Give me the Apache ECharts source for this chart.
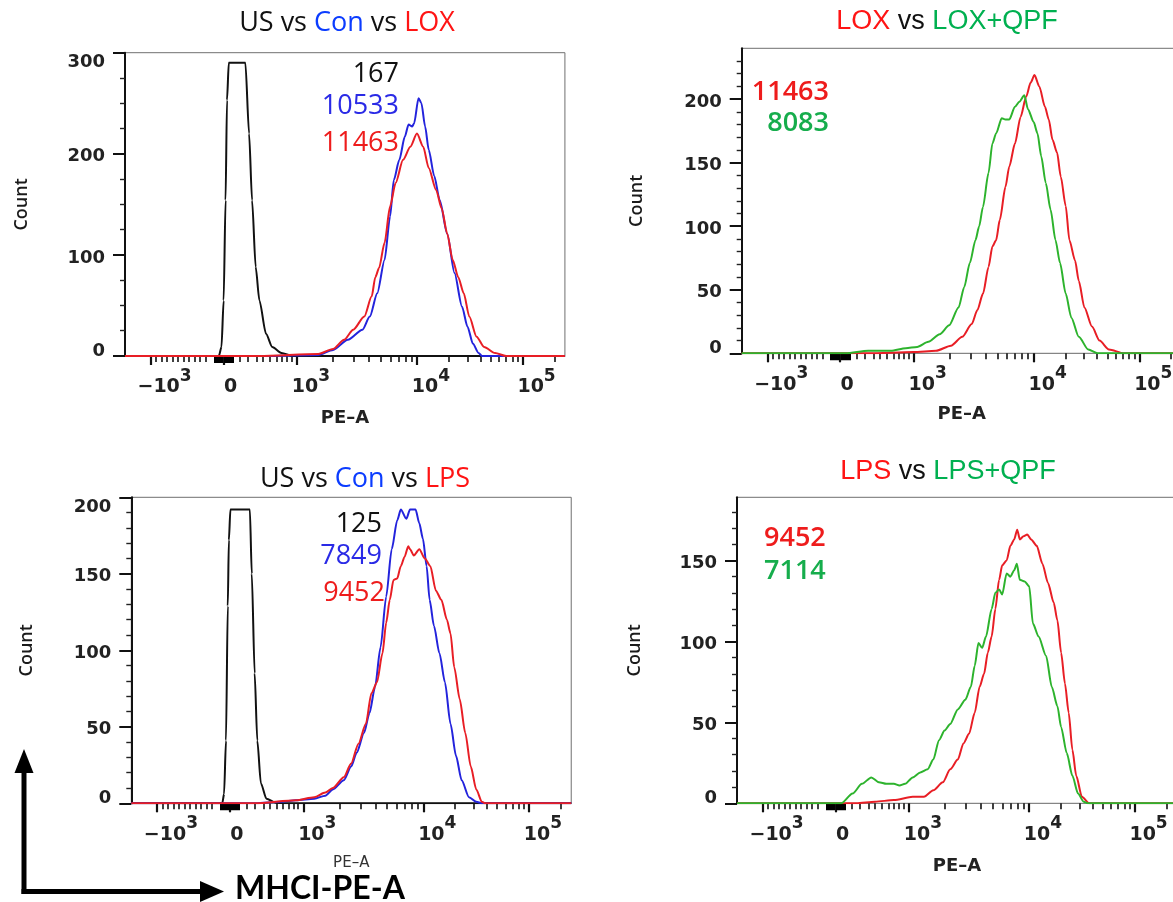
<!DOCTYPE html>
<html>
<head>
<meta charset="utf-8">
<script src="https://cdn.jsdelivr.net/npm/echarts@6/dist/echarts.min.js"></script>
<style>
html,body{margin:0;padding:0;background:#fff;}
#c{width:1173px;height:902px;}
</style>
</head>
<body>
<div id="c"></div>
<script>
// ---------- DATA (x = position on the biexponential PE-A scale, in decade units; y = Count) ----------
// Panel 1: US vs Con vs LOX
const lox_US = [[1.567,0],[2.349,0],[2.371,9],[2.389,55],[2.405,154],[2.417,253],[2.432,290],[2.570,290],[2.601,220],[2.626,154],[2.656,88],[2.687,55],[2.742,22],[2.794,9],[2.871,3],[2.963,0],[5.233,0]];
const lox_Con = [[1.567,0],[2.718,0],[3.178,1],[3.301,6],[3.424,16],[3.546,26],[3.607,39],[3.669,62],[3.730,95],[3.776,138],[3.807,174],[3.853,194],[3.899,217],[3.930,229],[3.960,227],[3.976,230],[4.013,255],[4.037,250],[4.068,227],[4.098,204],[4.144,178],[4.190,154],[4.252,121],[4.313,82],[4.375,49],[4.421,29],[4.467,12],[4.513,3],[4.543,0],[5.233,0]];
const lox_LOX = [[1.567,0],[2.687,0],[3.178,2],[3.301,7],[3.393,16],[3.469,26],[3.561,39],[3.623,59],[3.653,78],[3.684,87],[3.730,112],[3.776,148],[3.822,171],[3.884,194],[3.945,207],[4.000,220],[4.052,207],[4.098,186],[4.160,164],[4.206,146],[4.252,121],[4.298,95],[4.344,78],[4.390,62],[4.436,39],[4.497,19],[4.559,9],[4.651,3],[4.743,0],[5.233,0]];
// Panel 2: LOX vs LOX+QPF
const loxq_LOX = [[1.567,0],[2.622,0],[2.998,1],[3.186,2],[3.311,6],[3.405,13],[3.484,23],[3.531,34],[3.578,47],[3.624,68],[3.656,84],[3.687,89],[3.718,105],[3.765,131],[3.797,147],[3.844,165],[3.891,186],[3.938,202],[3.975,213],[4.007,219],[4.047,210],[4.094,194],[4.126,184],[4.157,168],[4.195,158],[4.226,139],[4.267,116],[4.298,89],[4.345,73],[4.376,57],[4.423,36],[4.486,21],[4.549,10],[4.627,3],[4.752,0],[5.233,0]];
const loxq_QPF = [[1.567,0],[2.434,0],[2.622,2],[2.810,2],[2.935,4],[3.029,5],[3.123,9],[3.217,15],[3.296,22],[3.374,36],[3.421,52],[3.468,71],[3.515,89],[3.546,100],[3.577,115],[3.624,142],[3.656,165],[3.687,173],[3.734,185],[3.765,184],[3.797,184],[3.844,194],[3.881,198],[3.922,203],[3.953,192],[4.000,182],[4.032,173],[4.063,155],[4.101,134],[4.141,113],[4.182,89],[4.220,71],[4.267,47],[4.314,28],[4.376,13],[4.455,3],[4.533,0],[5.233,0]];
// Panel 3: US vs Con vs LPS
const lps_US = [[1.567,0],[2.325,0],[2.340,6],[2.356,41],[2.371,129],[2.380,172],[2.393,192],[2.555,192],[2.571,150],[2.595,85],[2.617,41],[2.647,13],[2.693,3],[2.770,0.4],[2.847,0],[5.233,0]];
const lps_Con = [[1.567,0],[2.601,0],[2.816,1],[2.939,2],[3.092,3],[3.184,5],[3.246,9],[3.338,15],[3.399,24],[3.445,33],[3.506,46],[3.552,59],[3.598,76],[3.644,102],[3.691,135],[3.737,166],[3.783,185],[3.813,192],[3.859,186],[3.890,192],[3.936,192],[3.967,183],[3.997,173],[4.028,155],[4.053,133],[4.089,116],[4.135,98],[4.181,79],[4.227,52],[4.273,31],[4.320,15],[4.381,4],[4.442,1],[4.488,0],[5.233,0]];
const lps_LPS = [[1.567,0],[2.601,0],[2.939,2],[3.092,4],[3.184,7],[3.246,10],[3.338,17],[3.399,26],[3.460,39],[3.522,52],[3.568,72],[3.614,79],[3.660,98],[3.691,118],[3.721,133],[3.752,146],[3.783,147],[3.813,155],[3.844,161],[3.875,168],[3.890,166],[3.921,162],[3.967,166],[4.013,160],[4.059,155],[4.105,139],[4.151,133],[4.197,120],[4.227,111],[4.258,89],[4.304,68],[4.350,46],[4.396,24],[4.442,9],[4.488,1],[4.519,0],[5.233,0]];
// Panel 4: LPS vs LPS+QPF
const lpsq_LPS = [[1.567,0],[2.561,0],[2.718,1],[2.874,2],[3.031,4],[3.125,4],[3.203,8],[3.282,13],[3.344,21],[3.407,27],[3.454,37],[3.501,43],[3.548,56],[3.589,72],[3.626,80],[3.657,93],[3.689,103],[3.720,120],[3.751,138],[3.777,147],[3.814,150],[3.845,159],[3.877,163],[3.902,169],[3.924,163],[3.955,165],[3.986,166],[4.018,163],[4.065,159],[4.112,148],[4.159,136],[4.206,124],[4.237,113],[4.268,93],[4.300,74],[4.331,56],[4.362,33],[4.394,17],[4.441,4],[4.503,0],[5.233,0]];
const lpsq_QPF = [[1.567,0],[2.436,0],[2.530,6],[2.608,12],[2.686,16],[2.749,13],[2.812,12],[2.874,12],[2.921,11],[2.968,12],[3.031,16],[3.094,19],[3.156,21],[3.203,27],[3.250,39],[3.297,45],[3.344,49],[3.407,58],[3.470,64],[3.516,72],[3.548,85],[3.579,99],[3.610,96],[3.642,103],[3.689,120],[3.720,130],[3.751,132],[3.777,129],[3.814,142],[3.845,140],[3.877,144],[3.899,148],[3.924,138],[3.964,137],[4.002,134],[4.033,111],[4.080,103],[4.143,91],[4.190,72],[4.237,60],[4.268,47],[4.315,31],[4.362,17],[4.409,6],[4.456,1],[4.488,0],[5.233,0]];

// Median values shown on each panel
const medLOX = ['167','10533','11463'];
const medLOXQPF = ['11463','8083'];
const medLPS = ['125','7849','9452'];
const medLPSQPF = ['9452','7114'];

// Tick labels
const xTickPos = [1.78, 2.388, 3, 4, 4.88];
const xTickBase = ['\u221210', '0', '10', '10', '10'];
const xTickExp = ['3', '', '3', '4', '5'];
const yTicksLOX = [0,100,200,300];
const yTicksLOXQPF = [0,50,100,150,200];
const yTicksLPS = [0,50,100,150,200];
const yTicksLPSQPF = [0,50,100,150];

// ---------- STYLE / LAYOUT ----------
const C_BLACK = '#111111', C_BLUE = '#2323dc', C_RED = '#e81e25', C_GREEN = '#2db32d';
const T_BLUE = '#0b3cff', T_RED = '#ff1414', T_GREEN = '#00b050', A_BLUE = '#2a2ae6', A_RED = '#ee1c1c', A_GREEN = '#16ad4c';
const X_MIN = 1.567, X_MAX = 5.233, PX_PER_UNIT = 120;

// minor tick positions of the biexponential axis (axis decoration only)
const xMinor = [];
for (let k = 1; k <= 10; k++) xMinor.push(+(1.78 + k * 0.046).toFixed(3));
[2.525, 2.592, 2.667, 2.717, 2.775, 2.833, 2.875, 2.917, 2.958].forEach(v => xMinor.push(v));
for (let k = 2; k <= 9; k++) xMinor.push(+(3 + Math.log10(k)).toFixed(4));
for (let k = 2; k <= 9; k++) xMinor.push(+(4 + 0.88 * Math.log10(k)).toFixed(4));
xMinor.push(5.145);
const xZeroCluster = [];
for (let k = -7; k <= 7; k++) if (k !== 0) xZeroCluster.push(+(2.388 + k * 0.011).toFixed(4));

const labelFont = 'DejaVu Sans';
const xRich = {
  b: {fontFamily: labelFont, fontWeight: 'bold', fontSize: 19, lineHeight: 20, color: '#222', verticalAlign: 'bottom', padding: [0,0,0,28]},
  s: {fontFamily: labelFont, fontWeight: 'bold', fontSize: 17, lineHeight: 18, color: '#222', verticalAlign: 'bottom', padding: [0,0,12,0]},
  z: {fontFamily: labelFont, fontWeight: 'bold', fontSize: 19, lineHeight: 20, color: '#222', verticalAlign: 'bottom', padding: [11,0,0,14]}
};
function xLabel(v) {
  const i = xTickPos.findIndex(p => Math.abs(p - v) < 1e-6);
  if (i < 0) return '';
  if (!xTickExp[i]) return '{z|' + xTickBase[i] + '}';
  return '{b|' + xTickBase[i] + '}{s|' + xTickExp[i] + '}';
}
const yBase = {fontFamily: labelFont, fontWeight: 'bold', fontSize: 18, lineHeight: 20, color: '#222'};
const yRich = {
  n: Object.assign({}, yBase, {padding: [6,0,0,0]}),
  t: Object.assign({}, yBase, {padding: [20,0,0,0]}),
  z: Object.assign({}, yBase, {padding: [0,0,10,0]})
};

const panels = [
  {left:125, top:52.7, height:303.3, ymax:300, minorStep:25, yTicks:yTicksLOX, gapY:94, gapX:53,
   series:[['US',lox_US,C_BLACK],['Con',lox_Con,C_BLUE],['LOX',lox_LOX,C_RED]], nameStyle:{fontSize:18, fontWeight:'bold', color:'#222'}},
  {left:741.7, top:48.3, height:305, ymax:240, minorStep:10, yTicks:yTicksLOXQPF, gapY:96, gapX:52,
   series:[['LOX',loxq_LOX,C_RED],['LOX+QPF',loxq_QPF,C_GREEN]], nameStyle:{fontSize:18, fontWeight:'bold', color:'#222'}},
  {left:131.3, top:497.3, height:306, ymax:200, minorStep:10, yTicks:yTicksLPS, gapY:95, gapX:52,
   series:[['US',lps_US,C_BLACK],['Con',lps_Con,C_BLUE],['LPS',lps_LPS,C_RED]], nameStyle:{fontSize:15, fontWeight:'normal', color:'#333'}},
  {left:737, top:497.3, height:306, ymax:189, minorStep:10, yTicks:yTicksLPSQPF, gapY:93, gapX:54,
   series:[['LPS',lpsq_LPS,C_RED],['LPS+QPF',lpsq_QPF,C_GREEN]], nameStyle:{fontSize:18, fontWeight:'bold', color:'#222'}}
];

const grid = [], xAxis = [], yAxis = [], series = [];
panels.forEach((p, i) => {
  grid.push({left: p.left, top: p.top, width: (X_MAX - X_MIN) * PX_PER_UNIT, height: p.height,
    show: true, borderColor: '#707070', borderWidth: 1, containLabel: false, outerBoundsMode: 'none'});
  const yMinor = [];
  for (let v = p.minorStep; v < p.ymax; v += p.minorStep) if (p.yTicks.indexOf(v) < 0) yMinor.push(v);
  xAxis.push({
    type: 'value', gridIndex: i, position: 'bottom', min: X_MIN, max: X_MAX,
    axisLine: {show: true, onZero: false, lineStyle: {color: '#858585', width: 1.2}},
    splitLine: {show: false},
    axisTick: {show: true, customValues: xTickPos, length: 9, lineStyle: {color: '#111', width: 2.2}},
    axisLabel: {show: true, customValues: xTickPos, formatter: xLabel, rich: xRich, margin: 21},
    name: 'PE\u2013A', nameLocation: 'middle', nameGap: p.gapX,
    nameTextStyle: Object.assign({fontFamily: labelFont}, p.nameStyle)
  });
  xAxis.push({
    type: 'value', gridIndex: i, position: 'bottom', min: X_MIN, max: X_MAX,
    axisLine: {show: false, onZero: false}, splitLine: {show: false}, axisLabel: {show: false},
    axisTick: {show: true, customValues: xMinor, length: 6, lineStyle: {color: '#111', width: 1.6}}
  });
  xAxis.push({
    type: 'value', gridIndex: i, position: 'bottom', min: X_MIN, max: X_MAX,
    axisLine: {show: false, onZero: false}, splitLine: {show: false}, axisLabel: {show: false},
    axisTick: {show: true, customValues: xZeroCluster, length: 7, lineStyle: {color: '#000', width: 2}}
  });
  yAxis.push({
    type: 'value', gridIndex: i, position: 'left', min: 0, max: p.ymax,
    axisLine: {show: true, onZero: false, lineStyle: {color: '#111', width: 2}},
    splitLine: {show: false},
    axisTick: {show: true, customValues: p.yTicks, length: 12, lineStyle: {color: '#111', width: 2}},
    axisLabel: {show: true, customValues: p.yTicks, margin: 20, rich: yRich,
      formatter: v => (v === 0 ? '{z|0}' : (v === p.ymax ? '{t|' + v + '}' : '{n|' + v + '}'))},
    name: 'Count', nameLocation: 'middle', nameRotate: 90, nameGap: p.gapY,
    nameTextStyle: {fontFamily: 'Open Sans', fontSize: 18, fontWeight: 600, color: '#1a1a1a'}
  });
  yAxis.push({
    type: 'value', gridIndex: i, position: 'left', min: 0, max: p.ymax,
    axisLine: {show: false, onZero: false}, splitLine: {show: false}, axisLabel: {show: false},
    axisTick: {show: true, customValues: yMinor, length: 5, lineStyle: {color: '#222', width: 1.4}}
  });
  p.series.forEach(s => {
    series.push({
      type: 'line', name: s[0], xAxisIndex: 3 * i, yAxisIndex: 2 * i, data: s[1],
      showSymbol: false, smooth: 0.25, smoothMonotone: 'x', clip: true,
      lineStyle: {color: s[2], width: 2}, itemStyle: {color: s[2]}, z: 3
    });
  });
});

const tFontA = {fontFamily: 'Open Sans', fontSize: 27, fontWeight: 'normal'};
const tFontB = {fontFamily: 'Liberation Sans', fontSize: 27, fontWeight: 'normal'};
function tr(font, color) { return Object.assign({color: color, lineHeight: 34}, font); }
function ttl(text, x, y, font, rich) {
  return {text: text, left: x, top: y, textAlign: 'center', textVerticalAlign: 'middle', padding: 0,
    textStyle: Object.assign({fontWeight: 'normal', rich: rich}, font)};
}
const title = [
  ttl('{k|US vs }{b|Con}{k| vs }{r|LOX}', 347, 23, tFontA, {k: tr(tFontA, '#111'), b: tr(tFontA, T_BLUE), r: tr(tFontA, T_RED)}),
  ttl('{r|LOX}{k| vs }{g|LOX+QPF}', 947, 22, tFontB, {k: tr(tFontB, '#111'), g: tr(tFontB, T_GREEN), r: tr(tFontB, T_RED)}),
  ttl('{k|US vs }{b|Con}{k| vs }{r|LPS}', 365, 479, tFontA, {k: tr(tFontA, '#111'), b: tr(tFontA, T_BLUE), r: tr(tFontA, T_RED)}),
  ttl('{r|LPS}{k| vs }{g|LPS+QPF}', 948, 472, tFontB, {k: tr(tFontB, '#111'), g: tr(tFontB, T_GREEN), r: tr(tFontB, T_RED)})
];

function ann(text, x, y, color, align, weight) {
  return {type: 'text', x: x, y: y, z: 10, style: {text: text, fill: color, align: align, verticalAlign: 'middle',
    fontFamily: 'Open Sans', fontSize: 27, fontWeight: weight || 'normal'}};
}
const graphic = [
  ann(medLOX[0], 399, 74, '#111', 'right'),
  ann(medLOX[1], 399, 106, A_BLUE, 'right'),
  ann(medLOX[2], 399, 143, A_RED, 'right'),
  ann(medLOXQPF[0], 829, 92, A_RED, 'right', 600),
  ann(medLOXQPF[1], 829, 123, A_GREEN, 'right', 600),
  ann(medLPS[0], 382, 524, '#111', 'right'),
  ann(medLPS[1], 382, 556, A_BLUE, 'right'),
  ann(medLPS[2], 385, 593, A_RED, 'right'),
  ann(medLPSQPF[0], 764, 538, A_RED, 'left', 600),
  ann(medLPSQPF[1], 764, 571, A_GREEN, 'left', 600),
  {type: 'line', shape: {x1: 24, y1: 894, x2: 24, y2: 770}, style: {stroke: '#000', lineWidth: 5}},
  {type: 'polygon', shape: {points: [[24, 749], [14.5, 773], [33.5, 773]]}, style: {fill: '#000'}},
  {type: 'line', shape: {x1: 21.5, y1: 891.5, x2: 202, y2: 891.5}, style: {stroke: '#000', lineWidth: 5}},
  {type: 'polygon', shape: {points: [[224, 891.5], [200, 881], [200, 902]]}, style: {fill: '#000'}},
  {type: 'text', x: 235, y: 889, style: {text: 'MHCI-PE-A', fill: '#000', align: 'left', verticalAlign: 'middle',
    fontFamily: 'Lato', fontSize: 32, fontWeight: 'bold'}}
];

const chart = echarts.init(document.getElementById('c'), null, {renderer: 'canvas', width: 1173, height: 902});
chart.setOption({
  animation: false,
  backgroundColor: '#ffffff',
  textStyle: {fontFamily: 'DejaVu Sans'},
  title: title,
  grid: grid,
  xAxis: xAxis,
  yAxis: yAxis,
  series: series,
  graphic: graphic
});
</script>
</body>
</html>
